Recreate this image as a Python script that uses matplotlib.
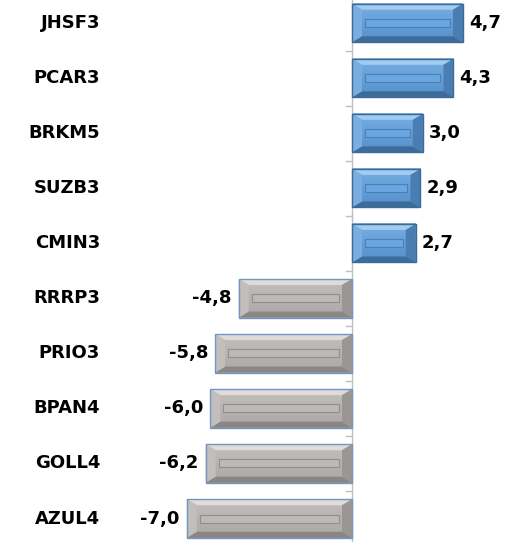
import matplotlib
matplotlib.use("Agg")
import matplotlib.pyplot as plt
import numpy as np
from matplotlib.patches import Polygon, Rectangle
from matplotlib.colors import to_rgb

tickers = ["JHSF3", "PCAR3", "BRKM5", "SUZB3", "CMIN3",
           "RRRP3", "PRIO3", "BPAN4", "GOLL4", "AZUL4"]
values = [4.7, 4.3, 3.0, 2.9, 2.7, -4.8, -5.8, -6.0, -6.2, -7.0]
value_labels = ["4,7", "4,3", "3,0", "2,9", "2,7",
                "-4,8", "-5,8", "-6,0", "-6,2", "-7,0"]

W, H = 521, 542
fig = plt.figure(figsize=(W / 100, H / 100), dpi=100)
ax_left_px, ax_right_px = 130, 515
ax = fig.add_axes([ax_left_px / W, 0, (ax_right_px - ax_left_px) / W, 1])

px_per_x = 23.6
zero_px = 352
xmin = -(zero_px - ax_left_px) / px_per_x
xmax = (ax_right_px - zero_px) / px_per_x
px_per_y = 55.06
ylim = (9 + (542 - 518.5) / px_per_y, -23 / px_per_y)
ax.axis("off")

pal = {
    "pos": dict(face_top="#76afe4", face_bot="#5590cb", top="#a3cbef", bottom="#3d6c9b",
                left="#7aaee0", right="#4a7db1", edge="#3d6a96",
                inner_face="#6aa6e0", inner_edge="#4a80b8"),
    "neg": dict(face_top="#c3bfbd", face_bot="#aba7a5", top="#dedbd9", bottom="#8a8684",
                left="#c2bebc", right="#9a9694", edge="#7196c4",
                inner_face="#bdb9b7", inner_edge="#908d8b"),
}

h = 0.70
dx = 10 / px_per_x
dy = 6 / px_per_y
fs = 13
font = "DejaVu Sans"
for i, (v, lab) in enumerate(zip(values, value_labels)):
    c = pal["pos"] if v >= 0 else pal["neg"]
    x0, x1 = min(0, v), max(0, v)
    yt, yb = i - h / 2, i + h / 2
    # gradient face
    ct, cb = np.array(to_rgb(c["face_top"])), np.array(to_rgb(c["face_bot"]))
    t = np.linspace(0, 1, 32)[:, None, None]
    grad = ct * (1 - t) + cb * t
    ax.imshow(grad, extent=(x0, x1, yb, yt), aspect="auto", zorder=2, interpolation="bilinear")
    # bevels
    ax.add_patch(Polygon([(x0, yt), (x1, yt), (x1 - dx, yt + dy), (x0 + dx, yt + dy)],
                         closed=True, facecolor=c["top"], edgecolor="none", zorder=3))
    ax.add_patch(Polygon([(x0, yb), (x1, yb), (x1 - dx, yb - dy), (x0 + dx, yb - dy)],
                         closed=True, facecolor=c["bottom"], edgecolor="none", zorder=3))
    ax.add_patch(Polygon([(x0, yt), (x0 + dx, yt + dy), (x0 + dx, yb - dy), (x0, yb)],
                         closed=True, facecolor=c["left"], edgecolor="none", zorder=3))
    ax.add_patch(Polygon([(x1, yt), (x1 - dx, yt + dy), (x1 - dx, yb - dy), (x1, yb)],
                         closed=True, facecolor=c["right"], edgecolor="none", zorder=3))
    # inner thin rectangle
    ih = 8 / px_per_y
    inset = 13 / px_per_x
    ax.add_patch(Rectangle((x0 + inset, i - ih / 2), (x1 - x0) - 2 * inset, ih,
                           facecolor=c["inner_face"], edgecolor=c["inner_edge"],
                           linewidth=0.8, zorder=4))
    # outline
    ax.add_patch(Rectangle((x0, yt), x1 - x0, h, facecolor="none", edgecolor=c["edge"],
                           linewidth=1.0, zorder=5))
    # value label
    if v >= 0:
        ax.text(v + 6 / px_per_x, i, lab, ha="left", va="center", fontsize=fs,
                fontweight="bold", family=font, color="black")
    else:
        ax.text(v - 7 / px_per_x, i, lab, ha="right", va="center", fontsize=fs,
                fontweight="bold", family=font, color="black")
    # category label
    ax.text(xmin - 30 / px_per_x, i, tickers[i], ha="right", va="center", fontsize=fs,
            fontweight="bold", family=font, color="black", clip_on=False)

# vertical axis line with ticks between categories
ax.plot([0, 0], [-0.5, 9.6], color="#bfbfbf", linewidth=1, zorder=1)
for k in range(-1, 10):
    ax.plot([-6 / px_per_x, 0], [k + 0.5, k + 0.5], color="#bfbfbf", linewidth=1, zorder=1)

ax.set_xlim(xmin, xmax)
ax.set_ylim(*ylim)
fig.savefig("out.png", dpi=100)
